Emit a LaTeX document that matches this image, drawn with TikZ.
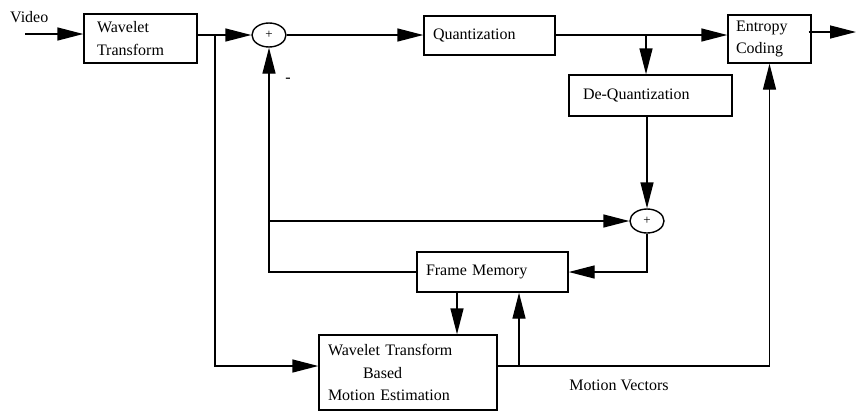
\documentclass[tikz,border=0pt]{standalone}
\usepackage{fontspec}
\setmainfont{Liberation Serif}
\usetikzlibrary{arrows.meta,shapes.geometric}
\tikzset{
  arr/.style={line width=1.4pt,-{Triangle[length=26pt,width=13pt]}},
  bx/.style={draw,line width=1.4pt,align=left,inner ysep=0pt,font=\fontsize{16}{23}\selectfont},
  sm/.style={draw,ellipse,line width=1.4pt,minimum width=34pt,minimum height=24pt,inner sep=0pt,font=\fontsize{13}{14}\selectfont},
  lbl/.style={font=\fontsize{16}{20}\selectfont,inner sep=0pt}
}
\begin{document}
\begin{tikzpicture}[x=1pt,y=-1pt]
\useasboundingbox (0,0) rectangle (856,413);
% boxes
\node[bx,minimum width=113pt,minimum height=49pt,inner xsep=13pt,text width=87pt] (wt) at (140.5,38.5) {Wavelet\\Transform};
\node[bx,minimum width=131pt,minimum height=39pt,inner xsep=9pt,text width=113pt] (q) at (489.5,35.5) {Quantization};
\node[bx,minimum width=83pt,minimum height=48pt,inner xsep=8pt,text width=67pt,font=\fontsize{16}{22}\selectfont] (ec) at (769.5,39) {Entropy\\Coding};
\node[bx,minimum width=163pt,minimum height=41pt,inner xsep=14pt,text width=135pt] (dq) at (650.5,95.5) {De-Quantization};
\node[bx,minimum width=151pt,minimum height=40pt,inner xsep=9pt,text width=133pt] (fm) at (492.5,272) {Frame Memory};
\node[bx,minimum width=178pt,minimum height=75pt,inner xsep=9pt,text width=160pt,font=\fontsize{16}{22.5}\selectfont] (me) at (408,372.5) {Wavelet Transform\\\hspace*{35pt}Based\\Motion Estimation};
% summing junctions
\node[sm] (s1) at (269,35) {+};
\node[sm] (s2) at (647,221) {+};
% labels
\node[lbl,anchor=west] (video) at (10,17) {Video};
\node[lbl] (minus) at (288,80) {-};
\node[lbl] (mv) at (619,385) {Motion Vectors};
% helper coordinates
\coordinate (vin) at (25,34);
\coordinate (b1) at (215,34);
\coordinate (b2) at (646,34);
\coordinate (eout) at (856,32);
\coordinate (mrow) at (497,366);
\coordinate (c1) at (457,0);
\coordinate (c2) at (519,366);
% connectors
\draw[arr] (vin) -- (vin -| wt.west);
\draw[arr] (s1.west -| wt.east) -- (s1.west);
\draw[arr] (b1) |- (mrow -| me.west);
\draw[arr] (s1.east) -- (s1.east -| q.west);
\draw[arr] (s1 -| q.east) -- (s1 -| ec.west);
\draw[arr] (b2) -- (b2 |- dq.north);
\draw[arr] (eout -| ec.east) ++(-3,0) -- (eout);
\draw[arr] (s2 |- dq.south) -- (s2.north);
\draw[arr] (fm.west) -| (s1.south);
\draw[arr] (s1 |- s2) -- (s2.west);
\draw[arr] (s2.south) |- (fm.east);
\draw[arr] (c1 |- fm.south) -- (c1 |- me.north);
\draw[arr] (mrow) -| (ec.south);
\draw[arr] (c2) -- (c2 |- fm.south);
\end{tikzpicture}
\end{document}
